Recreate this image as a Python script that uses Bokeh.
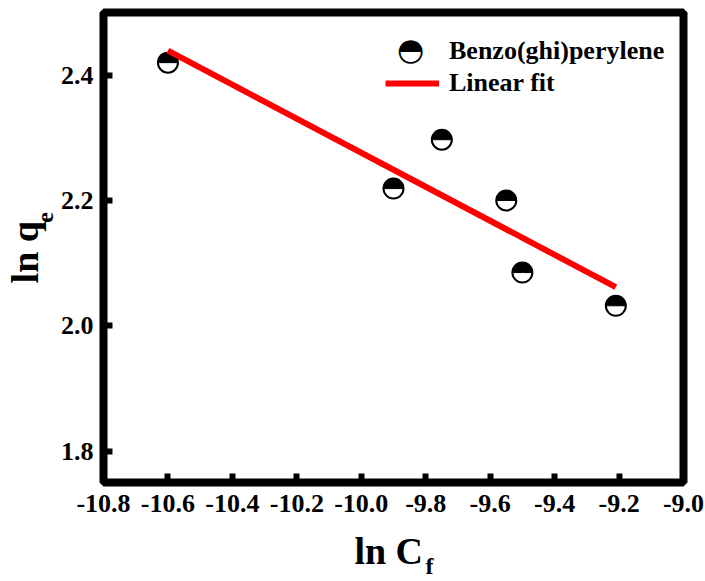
import numpy as np
from bokeh.plotting import figure
from bokeh.models import (Range1d, FixedTicker, PrintfTickFormatter, Legend, LegendItem,
                          Label, LinearAxis)
from bokeh.embed import file_html
from bokeh.resources import INLINE

# ---- data ----
ln_cf = [-10.60, -9.90, -9.75, -9.55, -9.50, -9.21]
ln_qe = [2.420, 2.219, 2.297, 2.200, 2.085, 2.032]
x_ticks = [-10.8, -10.6, -10.4, -10.2, -10.0, -9.8, -9.6, -9.4, -9.2, -9.0]
y_ticks = [1.8, 2.0, 2.2, 2.4]
series_name = "Benzo(ghi)perylene"
fit_name = "Linear fit"
x_title, x_sub = "ln C", "f"
y_title, y_sub = "ln q", "e"

# linear fit
slope, intercept = np.polyfit(ln_cf, ln_qe, 1)
fit_x = [min(ln_cf), max(ln_cf)]
fit_y = [slope * v + intercept for v in fit_x]

FONT = "Liberation Serif"
NB = "\u00a0"

p = figure(width=705, height=581,
           x_range=Range1d(-10.8, -9.0), y_range=Range1d(1.75, 2.50),
           output_backend="svg", toolbar_location=None,
           min_border_left=103, min_border_right=22,
           min_border_top=12, min_border_bottom=99)
p.background_fill_color = "white"
p.border_fill_color = "white"
p.outline_line_color = "black"
p.outline_line_width = 8
p.xgrid.visible = False
p.ygrid.visible = False

for ax, ticks in ((p.xaxis, x_ticks), (p.yaxis, y_ticks)):
    ax.ticker = FixedTicker(ticks=ticks)
    ax.formatter = PrintfTickFormatter(format="%.1f")
    ax.axis_line_color = None
    ax.major_tick_in = 9
    ax.major_tick_out = 0
    ax.major_tick_line_width = 6
    ax.major_tick_line_color = "black"
    ax.minor_tick_line_color = None
    ax.major_label_text_font = FONT
    ax.major_label_text_font_style = "bold"
    ax.major_label_text_font_size = "26px"
    ax.major_label_text_color = "black"
    ax.axis_label_text_font = FONT
    ax.axis_label_text_font_style = "bold"
    ax.axis_label_text_color = "black"
p.xaxis.major_label_standoff = 12
p.yaxis.major_label_standoff = 10

# x: main title on the tick axis, subscript on an extra label-only axis
p.xaxis.axis_label = x_title + NB
p.xaxis.axis_label_text_font_size = "38px"
p.xaxis.axis_label_standoff = 15

# y: subscript on the tick axis, main title on an extra label-only axis
p.yaxis.axis_label = NB * 10 + y_sub
p.yaxis.axis_label_text_font_size = "24px"
p.yaxis.axis_label_standoff = 0


def label_axis(text, size, standoff):
    a = LinearAxis(ticker=FixedTicker(ticks=[]), axis_label=text)
    a.axis_line_color = None
    a.major_tick_line_color = None
    a.minor_tick_line_color = None
    a.major_tick_out = 0
    a.minor_tick_out = 0
    a.major_label_standoff = 0
    a.axis_label_text_font = FONT
    a.axis_label_text_font_style = "bold"
    a.axis_label_text_font_size = size
    a.axis_label_text_color = "black"
    a.axis_label_standoff = standoff
    return a


p.add_layout(label_axis(NB * 12 + x_sub, "24px", -22), "below")
p.add_layout(label_axis(y_title + NB, "38px", -17), "left")

# markers: white circle with black outline, top half filled black
p.scatter(ln_cf, ln_qe, size=20, fill_color="white", line_color="black", line_width=2)
p.wedge(ln_cf, ln_qe, radius=10, radius_units="screen", start_angle=0, end_angle=np.pi,
        fill_color="black", line_color="black", line_width=1)

# fit line on top
fit_r = p.line(fit_x, fit_y, line_color="#FF0000", line_width=6)

legend = Legend(items=[LegendItem(label=series_name, renderers=[]),
                       LegendItem(label=fit_name, renderers=[fit_r])],
                location=(282, 384), margin=0, padding=0, spacing=2,
                glyph_width=54, glyph_height=26, label_standoff=10,
                border_line_color=None, background_fill_alpha=0,
                label_text_font=FONT, label_text_font_style="bold",
                label_text_font_size="26px", label_text_color="black")
p.add_layout(legend)

# legend marker symbol (circle with upper half black)
p.add_layout(Label(x=307, y=434, x_units="screen", y_units="screen", text="\u25D3",
                   text_font="DejaVu Sans", text_font_size="31px",
                   text_align="center", text_baseline="middle", text_color="black"))

open("out.html", "w").write(file_html(p, INLINE))
